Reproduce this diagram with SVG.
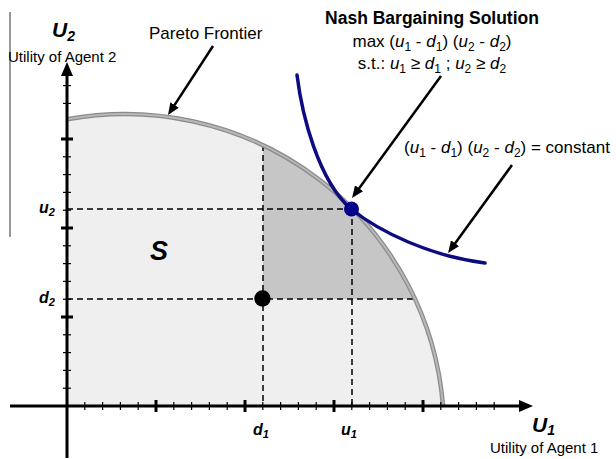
<svg xmlns="http://www.w3.org/2000/svg" width="616" height="459" viewBox="0 0 616 459">
<defs>
<style>
text{font-family:"Liberation Sans",Arial,sans-serif;fill:#000}
.bi{font-weight:bold;font-style:italic}
.it{font-style:italic}
.dash{stroke:#000;stroke-width:1.5;stroke-dasharray:6 4;fill:none}
.tk{stroke:#000;stroke-width:1.2}
.tkM{stroke:#000;stroke-width:3}
.arr{stroke:#000;stroke-width:2.5;fill:none;marker-end:url(#ah)}
</style>
<marker id="ah" viewBox="0 0 12 10" markerWidth="12" markerHeight="10" refX="2" refY="5" orient="auto" markerUnits="userSpaceOnUse">
<path d="M0,0 L12,5 L0,10 z" fill="#000"/>
</marker>
</defs>
<rect width="616" height="459" fill="#fff"/>
<line x1="10" y1="12" x2="10" y2="237" stroke="#777" stroke-width="1.5"/>
<g id="region-S">
<path d="M67 406 L67 119.3 A319 317 0 0 1 443 406 Z" fill="#efefef"/>
</g>
<g id="region-bargain">
<path d="M263 299 L263 145.2 A319 317 0 0 1 415 299 Z" fill="#c6c6c6"/>
</g>
<g id="guides">
<line class="dash" x1="67" y1="209" x2="351" y2="209"/>
<line class="dash" x1="67" y1="299" x2="415" y2="299"/>
<line class="dash" x1="263" y1="145" x2="263" y2="406"/>
<line class="dash" x1="352" y1="209" x2="352" y2="406"/>
</g>
<g id="frontier">
<path d="M67 119.3 A319 317 0 0 1 443 406" fill="none" stroke="#8c8c8c" stroke-width="4.5"/>
<path d="M67 119.3 A319 317 0 0 1 443 406" fill="none" stroke="#b8b8b8" stroke-width="2"/>
</g>
<g id="axes">
<line x1="10" y1="406" x2="520" y2="406" stroke="#000" stroke-width="3"/>
<path d="M533 406 L519 400 L519 412 Z" fill="#000"/>
<line x1="67" y1="458" x2="67" y2="75" stroke="#000" stroke-width="3"/>
<path d="M67 62 L61 76 L73 76 Z" fill="#000"/>
<g id="xticks">
<line class="tk" x1="84.8" y1="402" x2="84.8" y2="410"/>
<line class="tk" x1="102.6" y1="402" x2="102.6" y2="410"/>
<line class="tk" x1="120.4" y1="402" x2="120.4" y2="410"/>
<line class="tk" x1="138.2" y1="402" x2="138.2" y2="410"/>
<line class="tkM" x1="156" y1="400" x2="156" y2="412"/>
<line class="tk" x1="173.8" y1="402" x2="173.8" y2="410"/>
<line class="tk" x1="191.6" y1="402" x2="191.6" y2="410"/>
<line class="tk" x1="209.4" y1="402" x2="209.4" y2="410"/>
<line class="tk" x1="227.2" y1="402" x2="227.2" y2="410"/>
<line class="tkM" x1="245" y1="400" x2="245" y2="412"/>
<line class="tk" x1="262.8" y1="402" x2="262.8" y2="410"/>
<line class="tk" x1="280.6" y1="402" x2="280.6" y2="410"/>
<line class="tk" x1="298.4" y1="402" x2="298.4" y2="410"/>
<line class="tk" x1="316.2" y1="402" x2="316.2" y2="410"/>
<line class="tkM" x1="334" y1="400" x2="334" y2="412"/>
<line class="tk" x1="351.8" y1="402" x2="351.8" y2="410"/>
<line class="tk" x1="369.6" y1="402" x2="369.6" y2="410"/>
<line class="tk" x1="387.4" y1="402" x2="387.4" y2="410"/>
<line class="tk" x1="405.2" y1="402" x2="405.2" y2="410"/>
<line class="tkM" x1="423" y1="400" x2="423" y2="412"/>
<line class="tk" x1="440.8" y1="402" x2="440.8" y2="410"/>
<line class="tk" x1="458.6" y1="402" x2="458.6" y2="410"/>
<line class="tk" x1="476.4" y1="402" x2="476.4" y2="410"/>
<line class="tk" x1="494.2" y1="402" x2="494.2" y2="410"/>
</g>
<g id="yticks">
<line class="tk" x1="63" y1="388.2" x2="71" y2="388.2"/>
<line class="tk" x1="63" y1="370.4" x2="71" y2="370.4"/>
<line class="tk" x1="63" y1="352.6" x2="71" y2="352.6"/>
<line class="tk" x1="63" y1="334.8" x2="71" y2="334.8"/>
<line class="tkM" x1="61" y1="317" x2="73" y2="317"/>
<line class="tk" x1="63" y1="299.2" x2="71" y2="299.2"/>
<line class="tk" x1="63" y1="281.4" x2="71" y2="281.4"/>
<line class="tk" x1="63" y1="263.6" x2="71" y2="263.6"/>
<line class="tk" x1="63" y1="245.8" x2="71" y2="245.8"/>
<line class="tkM" x1="61" y1="228" x2="73" y2="228"/>
<line class="tk" x1="63" y1="210.2" x2="71" y2="210.2"/>
<line class="tk" x1="63" y1="192.4" x2="71" y2="192.4"/>
<line class="tk" x1="63" y1="174.6" x2="71" y2="174.6"/>
<line class="tk" x1="63" y1="156.8" x2="71" y2="156.8"/>
<line class="tkM" x1="61" y1="139" x2="73" y2="139"/>
<line class="tk" x1="63" y1="103.4" x2="71" y2="103.4"/>
<line class="tk" x1="63" y1="85.6" x2="71" y2="85.6"/>
</g>
</g>
<g id="nbs-curve">
<path d="M297 75 C302 115 318 180 351 209 C380 232 430 256 485 263" fill="none" stroke="#0c0c80" stroke-width="3.5" stroke-linecap="round"/>
</g>
<g id="point-nbs"><circle cx="351.5" cy="209" r="7.5" fill="#00008a"/></g>
<g id="point-d"><circle cx="262.5" cy="298.5" r="8.2" fill="#000"/></g>
<g id="connectors">
<line class="arr" x1="213" y1="46" x2="173.5" y2="106.6"/>
<line class="arr" x1="441" y1="76" x2="357.9" y2="189.9"/>
<line class="arr" x1="512" y1="165" x2="453.9" y2="244.9"/>
</g>
<g id="labels">
<text class="bi" x="52" y="37" font-size="21">U<tspan font-size="14" dy="4">2</tspan></text>
<text x="8" y="62" font-size="15">Utility of Agent 2</text>
<text class="bi" x="532" y="432" font-size="21">U<tspan font-size="14" dy="3">1</tspan></text>
<text x="490" y="453" font-size="15">Utility of Agent 1</text>
<text x="149" y="39" font-size="17">Pareto Frontier</text>
<text x="432" y="24" font-size="17.5" font-weight="bold" text-anchor="middle">Nash Bargaining Solution</text>
<text x="432" y="47" font-size="17" text-anchor="middle">max (<tspan class="it">u</tspan><tspan font-size="12" dy="4">1</tspan><tspan dy="-4"> - </tspan><tspan class="it">d</tspan><tspan font-size="12" dy="4">1</tspan><tspan dy="-4">) (</tspan><tspan class="it">u</tspan><tspan font-size="12" dy="4">2</tspan><tspan dy="-4"> - </tspan><tspan class="it">d</tspan><tspan font-size="12" dy="4">2</tspan><tspan dy="-4">)</tspan></text>
<text x="432" y="69" font-size="17" text-anchor="middle">s.t.: <tspan class="it">u</tspan><tspan font-size="12" dy="4">1</tspan><tspan dy="-4"> ≥ </tspan><tspan class="it">d</tspan><tspan font-size="12" dy="4">1</tspan><tspan dy="-4"> ; </tspan><tspan class="it">u</tspan><tspan font-size="12" dy="4">2</tspan><tspan dy="-4"> ≥ </tspan><tspan class="it">d</tspan><tspan font-size="12" dy="4">2</tspan></text>
<text x="404" y="153" font-size="17">(<tspan class="it">u</tspan><tspan font-size="12" dy="4">1</tspan><tspan dy="-4"> - </tspan><tspan class="it">d</tspan><tspan font-size="12" dy="4">1</tspan><tspan dy="-4">) (</tspan><tspan class="it">u</tspan><tspan font-size="12" dy="4">2</tspan><tspan dy="-4"> - </tspan><tspan class="it">d</tspan><tspan font-size="12" dy="4">2</tspan><tspan dy="-4">) = constant</tspan></text>
<text class="bi" x="150" y="260" font-size="27">S</text>
<text class="bi" x="39" y="213" font-size="16">u<tspan font-size="11" dy="3">2</tspan></text>
<text class="bi" x="39" y="303" font-size="16">d<tspan font-size="11" dy="3">2</tspan></text>
<text class="bi" x="253" y="435" font-size="16">d<tspan font-size="11" dy="3">1</tspan></text>
<text class="bi" x="341" y="435" font-size="16">u<tspan font-size="11" dy="3">1</tspan></text>
</g>
</svg>
